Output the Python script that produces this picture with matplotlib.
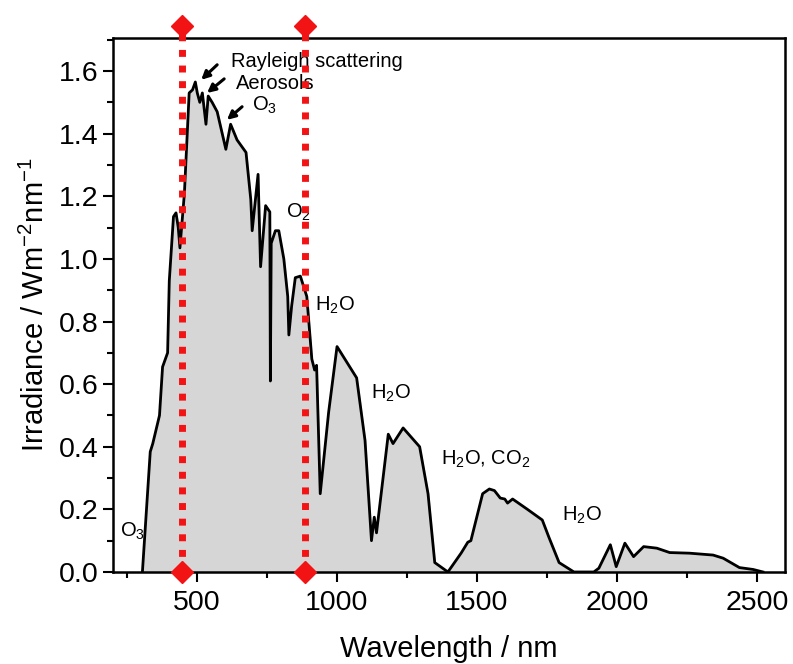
import matplotlib
matplotlib.use("Agg")
import matplotlib.pyplot as plt
from matplotlib.ticker import MultipleLocator

plt.rcParams['font.family'] = ['Liberation Sans', 'DejaVu Sans']
plt.rcParams['mathtext.fontset'] = 'custom'
plt.rcParams['mathtext.rm'] = 'Liberation Sans'
plt.rcParams['mathtext.default'] = 'regular'

# Spectrum
wavelength = [305, 333, 342, 366, 377, 395, 401, 416, 425, 433, 439, 455, 472, 484, 494,
              501, 510, 519, 532, 540, 554, 572, 603, 620, 643, 675, 692, 697, 718, 727,
              745, 760, 762, 765, 780, 792, 810, 824, 828, 838, 851, 869, 892, 910, 920,
              927, 940, 970, 1000, 1070, 1100, 1123, 1133, 1141, 1183, 1200, 1236, 1295,
              1325, 1349, 1396, 1443, 1467, 1478, 1520, 1544, 1562, 1583, 1599, 1609, 1627,
              1680, 1733, 1757, 1793, 1846, 1917, 1935, 1976, 1997, 2028, 2059, 2095, 2142,
              2188, 2259, 2343, 2379, 2437, 2486, 2521]
irradiance = [0.0, 0.384, 0.41, 0.50, 0.655, 0.70, 0.93, 1.135, 1.147, 1.10, 1.035, 1.21, 1.53, 1.54, 1.565,
              1.53, 1.50, 1.53, 1.43, 1.52, 1.50, 1.47, 1.35, 1.43, 1.38, 1.34, 1.19, 1.09, 1.27, 0.975,
              1.17, 1.15, 0.61, 1.05, 1.09, 1.09, 1.00, 0.88, 0.757, 0.85, 0.94, 0.945, 0.88, 0.68, 0.645,
              0.66, 0.25, 0.51, 0.72, 0.62, 0.42, 0.10, 0.175, 0.125, 0.44, 0.41, 0.46, 0.40,
              0.25, 0.03, 0.0, 0.06, 0.095, 0.10, 0.25, 0.265, 0.26, 0.236, 0.233, 0.22, 0.233,
              0.20, 0.166, 0.11, 0.03, 0.0, 0.0, 0.012, 0.087, 0.017, 0.092, 0.049, 0.081, 0.076,
              0.062, 0.06, 0.054, 0.044, 0.014, 0.008, 0.0]

# Marked band edges
band_edges = [445, 885]
band_top = 1.745

# Absorption labels: (text, wavelength, irradiance)
labels = [
    ("Rayleigh scattering", 622, 1.63),
    ("Aerosols", 639, 1.56),
    ("O$_3$", 696, 1.49),
    ("O$_2$", 817, 1.15),
    ("H$_2$O", 920, 0.85),
    ("H$_2$O", 1123, 0.57),
    ("H$_2$O, CO$_2$", 1371, 0.36),
    ("H$_2$O", 1805, 0.18),
    ("O$_3$", 224, 0.13),
]
# Arrows: (tail wl, tail irr, head wl, head irr)
arrows = [
    (572, 1.62, 515, 1.572),
    (597, 1.575, 536, 1.53),
    (661, 1.486, 607, 1.444),
]

fig = plt.figure(figsize=(7.93, 6.64), dpi=100)
ax = fig.add_axes([0.1425, 0.1386, 0.8475, 0.8044])

ax.fill_between(wavelength, irradiance, 0, color='#d6d6d6', zorder=1)
ax.plot(wavelength, irradiance, color='black', lw=2.0, zorder=2)

for txt, x, y in labels:
    ax.text(x, y, txt, fontsize=14.5, ha='left', va='center', zorder=3)

for x0, y0, x1, y1 in arrows:
    ax.annotate('', xy=(x1, y1), xytext=(x0, y0),
                arrowprops=dict(arrowstyle='-|>', color='black', lw=2.2,
                                mutation_scale=12, shrinkA=0, shrinkB=0), zorder=3)

for xe in band_edges:
    ax.plot([xe, xe], [0, band_top], color='#f21414', lw=5, linestyle=(0, (1, 1.25)),
            dash_capstyle='butt', clip_on=False, zorder=5)
    ax.plot([xe, xe], [0, band_top], linestyle='none', marker='D', ms=11,
            color='#f21414', clip_on=False, zorder=6)

ax.set_xlim(200, 2600)
ax.set_ylim(0, 1.706)
ax.xaxis.set_major_locator(MultipleLocator(500))
ax.xaxis.set_minor_locator(MultipleLocator(250))
ax.yaxis.set_major_locator(MultipleLocator(0.2))
ax.yaxis.set_minor_locator(MultipleLocator(0.1))
ax.yaxis.set_major_formatter(matplotlib.ticker.FormatStrFormatter('%.1f'))
ax.tick_params(which='major', direction='out', length=7, width=1.5, labelsize=20.5)
ax.tick_params(axis='x', which='major', pad=6)
ax.tick_params(which='minor', direction='out', length=4, width=1.5)
for s in ax.spines.values():
    s.set_linewidth(1.8)

ax.set_xlabel('Wavelength / nm', fontsize=21, labelpad=14)
ax.set_ylabel('Irradiance / Wm$^{-2}$nm$^{-1}$', fontsize=21, labelpad=6)

fig.savefig('out.png', dpi=100)
